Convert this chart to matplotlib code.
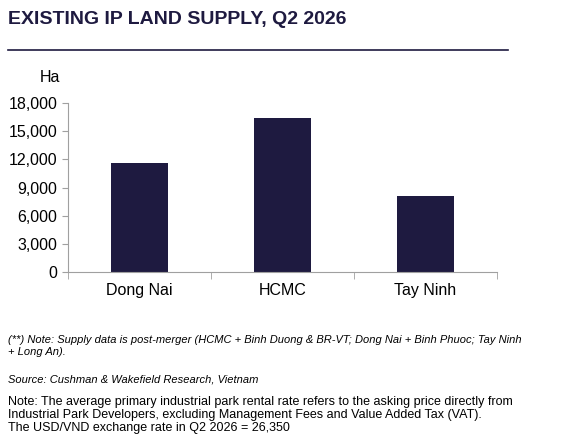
import matplotlib.pyplot as plt
from matplotlib.ticker import FuncFormatter

plt.rcParams["font.family"] = ["Liberation Sans", "DejaVu Sans"]

regions = ["Dong Nai", "HCMC", "Tay Ninh"]
supply_ha = [11600, 16420, 8120]
y_ticks = [0, 3000, 6000, 9000, 12000, 15000, 18000]

W, H = 561, 444
fig = plt.figure(figsize=(W / 100, H / 100), dpi=100)
ax = fig.add_axes([68 / W, 1 - 271.7 / H, (497 - 68) / W, (271.7 - 103.3) / H])

x = range(len(regions))
ax.bar(x, supply_ha, width=0.4, color="#1e1a40", zorder=2)
ax.set_xlim(-0.5, len(regions) - 0.5)
ax.set_ylim(0, 18000)
ax.set_yticks(y_ticks)
ax.yaxis.set_major_formatter(FuncFormatter(lambda v, p: f"{int(v):,}"))
ax.set_xticks(x)
ax.set_xticklabels(regions)
ax.set_xticks([-0.5, 0.5, 1.5, 2.5], minor=True)
ax.tick_params(axis="x", which="major", length=0, labelsize=11.5, pad=8)
ax.tick_params(axis="x", which="minor", length=5, color="#a0a0a0")
ax.tick_params(axis="y", length=4, color="#a0a0a0", labelsize=11.5)
for s in ["top", "right"]:
    ax.spines[s].set_visible(False)
for s in ["left", "bottom"]:
    ax.spines[s].set_color("#a0a0a0")

fig.text(40 / W, 1 - 78 / H, "Ha", fontsize=11.5, ha="left", va="center")

# title and rule
fig.text(8 / W, 1 - 20 / H, "EXISTING IP LAND SUPPLY, Q2 2026", fontsize=14,
         fontweight="bold", color="#1e1a40", va="center")
fig.add_artist(plt.Line2D([8 / W, 508 / W], [1 - 50 / H, 1 - 50 / H],
                          color="#1e1a40", lw=1.2))

# notes
fig.text(8 / W, 1 - 346 / H,
         "(**) Note: Supply data is post-merger (HCMC + Binh Duong & BR-VT; Dong Nai + Binh Phuoc; Tay Ninh\n+ Long An).",
         fontsize=8, style="italic", va="center", linespacing=1.3)
fig.text(8 / W, 1 - 379 / H, "Source: Cushman & Wakefield Research, Vietnam",
         fontsize=8, style="italic", va="center")
fig.text(8 / W, 1 - 415 / H,
         "Note: The average primary industrial park rental rate refers to the asking price directly from\n"
         "Industrial Park Developers, excluding Management Fees and Value Added Tax (VAT).\n"
         "The USD/VND exchange rate in Q2 2026 = 26,350",
         fontsize=9, va="center", linespacing=1.1)

fig.savefig("out.png", dpi=100)
